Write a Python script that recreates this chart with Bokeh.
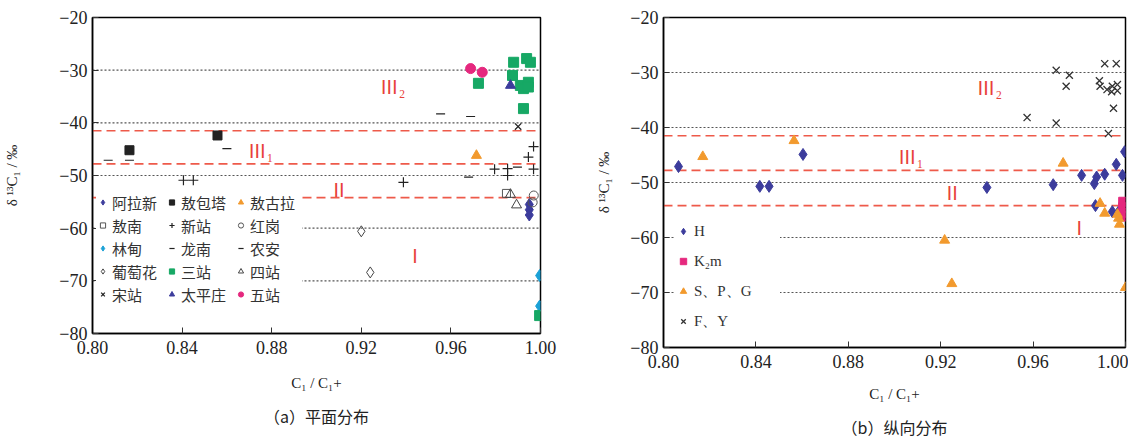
from bokeh.plotting import figure
from bokeh.models import Span, Legend, LegendItem, Label, Title, FixedTicker, NumeralTickFormatter, Range1d
from bokeh.layouts import row
from bokeh.embed import file_html
from bokeh.resources import INLINE

SERIF = "Liberation Serif"
CJK = "Noto Sans CJK SC"

# ---------------- axes / reference lines ----------------
x_ticks = [0.80, 0.84, 0.88, 0.92, 0.96, 1.00]
y_ticks = [-80, -70, -60, -50, -40, -30, -20]
y_tick_labels = ["−80", "−70", "−60", "−50", "−40", "−30", "−20"]
dotted_levels = [-30, -40, -50, -60, -70]
zone_bounds = [-41.5, -47.8, -54.2]
zone_names = ["Ⅲ₂", "Ⅲ₁", "Ⅱ", "Ⅰ"]
zone_x_a = [0.934, 0.875, 0.910, 0.944]
zone_y_a = [-33.0, -45.0, -52.5, -65.0]
zone_x_b = [0.941, 0.907, 0.925, 0.980]
zone_y_b = [-32.5, -45.0, -51.6, -58.0]

# ---------------- panel (a): by area ----------------
alaxin_x = [0.995, 0.995, 0.995]
alaxin_y = [-55.5, -56.5, -57.5]
aobaota_x = [0.8165, 0.8558]
aobaota_y = [-45.2, -42.4]
aogula_x = [0.9714]
aogula_y = [-46.2]
aonan_x = [0.9848]
aonan_y = [-53.4]
xinzhan_x = [0.8406, 0.8450, 0.9388, 0.9795, 0.9853, 0.9853, 0.9946, 0.9969, 0.9969]
xinzhan_y = [-50.9, -50.9, -51.3, -48.8, -48.7, -50.0, -46.5, -44.5, -48.8]
honggang_x = [0.9970, 0.9965]
honggang_y = [-53.8, -55.1]
lindian_x = [0.9996, 0.9996]
lindian_y = [-69.0, -74.8]
longnan_x = [0.8070, 0.8165, 0.8600]
longnan_y = [-47.1, -47.1, -44.9]
nongan_x = [0.9554, 0.9688, 0.9679, 0.9897]
nongan_y = [-38.3, -38.8, -50.3, -48.4]
putaohua_x = [0.9200, 0.9240]
putaohua_y = [-60.6, -68.4]
sanzhan_x = [0.9723, 0.9880, 0.9938, 0.9955, 0.9875, 0.9910, 0.9946, 0.9924, 0.9946, 0.9924, 0.9996]
sanzhan_y = [-32.5, -28.5, -27.8, -28.5, -31.0, -32.9, -32.3, -33.5, -33.2, -37.3, -76.6]
sizhan_x = [0.9866, 0.9893]
sizhan_y = [-53.6, -55.6]
songzhan_x = [0.9900]
songzhan_y = [-40.7]
taipingzhuang_x = [0.9866]
taipingzhuang_y = [-32.9]
wuzhan_x = [0.9688, 0.9740]
wuzhan_y = [-29.7, -30.4]

# ---------------- panel (b): by stratum ----------------
h_x = [0.8065, 0.8417, 0.8457, 0.8604, 0.9400, 0.9687, 0.9810, 0.9865, 0.9875, 0.9910,
       0.9960, 0.9996, 0.9987, 0.9870, 0.9943, 0.9975]
h_y = [-47.1, -50.7, -50.7, -44.9, -50.9, -50.4, -48.7, -50.2, -49.0, -48.5,
       -46.7, -44.4, -48.7, -54.2, -55.3, -55.0]
k2m_x = [0.999, 0.999, 0.999, 0.999]
k2m_y = [-53.5, -54.5, -55.5, -56.2]
spg_x = [0.8170, 0.8565, 0.9730, 0.9890, 0.9910, 0.9965, 0.9217, 0.9248, 1.0000, 0.9974, 0.9970]
spg_y = [-45.3, -42.4, -46.5, -53.8, -55.6, -55.8, -60.5, -68.4, -69.1, -57.6, -56.5]
fy_x = [0.9574, 0.9700, 0.9700, 0.9757, 0.9743, 0.9910, 0.9960, 0.9887, 0.9890, 0.9920,
        0.9943, 0.9965, 0.9965, 0.9948, 0.9926, 0.9940]
fy_y = [-38.2, -39.2, -29.6, -30.5, -32.5, -28.4, -28.4, -31.5, -32.5, -33.1,
        -32.5, -32.2, -33.3, -36.5, -41.1, -33.5]

BLUE = "#3c3c9c"
ORANGE = "#f29a2e"
GREEN = "#17a865"
CYAN = "#1ba1d6"
PINK = "#e5287e"
BLACK = "#222222"
RED = "#e8413a"


def make_fig(fw, fh, bl, br, bt, bb, ylab_standoff, xlab_standoff):
    p = figure(width=fw + bl + br, height=fh + bt + bb, frame_width=fw, frame_height=fh,
               min_border_left=bl, min_border_right=br, min_border_top=bt, min_border_bottom=bb,
               x_range=Range1d(0.80, 1.00), y_range=Range1d(-80, -20),
               output_backend="svg", toolbar_location=None)
    p.grid.visible = False
    p.background_fill_color = "white"
    p.border_fill_color = "white"
    p.outline_line_color = "black"
    p.outline_line_width = 1.5
    p.outline_line_alpha = 1.0
    p.xaxis.ticker = FixedTicker(ticks=x_ticks)
    p.xaxis.formatter = NumeralTickFormatter(format="0.00")
    p.yaxis.ticker = FixedTicker(ticks=y_ticks)
    p.yaxis.major_label_overrides = {t: s for t, s in zip(y_ticks, y_tick_labels)}
    for ax in (p.xaxis[0], p.yaxis[0]):
        ax.major_tick_in = 6
        ax.major_tick_out = 0
        ax.minor_tick_line_color = None
        ax.axis_line_width = 1.5
        ax.axis_line_color = "black"
        ax.major_tick_line_color = "#333333"
        ax.major_label_text_font = SERIF
        ax.major_label_text_font_size = "18px"
        ax.major_label_text_color = "#222222"
        ax.axis_label_text_font = SERIF
        ax.axis_label_text_font_size = "15px"
        ax.axis_label_text_font_style = "normal"
        ax.axis_label_text_color = "#222222"
    p.xaxis.major_label_standoff = 7
    p.yaxis.major_label_standoff = 5
    p.xaxis.axis_label = "C₁ / C₁+"
    p.xaxis.axis_label_standoff = xlab_standoff
    p.yaxis.axis_label = "δ ¹³C₁ / ‰"
    p.yaxis.axis_label_standoff = ylab_standoff
    for v in dotted_levels:
        p.add_layout(Span(location=v, dimension="width", line_color="#555555",
                          line_dash="2 2", line_width=1.2, level="underlay"))
    for v in zone_bounds:
        p.add_layout(Span(location=v, dimension="width", line_color="#ee5a4a",
                          line_dash="9 5", line_width=1.6, level="underlay"))
    return p


def add_zone_labels(p, xs, ys):
    for name, x, y in zip(zone_names, xs, ys):
        p.add_layout(Label(x=x, y=y, text=name, text_color=RED, text_font=CJK,
                           text_font_size="19px", text_align="center", text_baseline="middle"))


# ================= panel (a) =================
pa = make_fig(448, 316, 92, 32, 17, 100, 36, 18)
add_zone_labels(pa, zone_x_a, zone_y_a)

# legend fills column by column: listed here column-wise
series_a = [
    ("阿拉新", alaxin_x, alaxin_y, dict(marker="diamond", size=12, fill_color=BLUE, line_color=BLUE)),
    ("敖南", aonan_x, aonan_y, dict(marker="square", size=8, fill_color=None, line_color="#555555")),
    ("林甸", lindian_x, lindian_y, dict(marker="diamond", size=12, fill_color=CYAN, line_color=CYAN)),
    ("葡萄花", putaohua_x, putaohua_y, dict(marker="diamond", size=11, fill_color=None, line_color="#444444")),
    ("宋站", songzhan_x, songzhan_y, dict(marker="x", size=9, line_color=BLACK, line_width=1.3)),
    ("敖包塔", aobaota_x, aobaota_y, dict(marker="square", size=9, fill_color=BLACK, line_color=BLACK)),
    ("新站", xinzhan_x, xinzhan_y, dict(marker="cross", size=10, line_color=BLACK, line_width=1.2)),
    ("龙南", longnan_x, longnan_y, dict(marker="dash", size=9, line_color=BLACK, line_width=1.2)),
    ("三站", sanzhan_x, sanzhan_y, dict(marker="square", size=10, fill_color=GREEN, line_color=GREEN)),
    ("太平庄", taipingzhuang_x, taipingzhuang_y, dict(marker="triangle", size=10, fill_color=BLUE, line_color=BLUE)),
    ("敖古拉", aogula_x, aogula_y, dict(marker="triangle", size=10, fill_color=ORANGE, line_color=ORANGE)),
    ("红岗", honggang_x, honggang_y, dict(marker="circle", size=9, fill_color=None, line_color="#555555")),
    ("农安", nongan_x, nongan_y, dict(marker="dash", size=9, line_color=BLACK, line_width=1.2)),
    ("四站", sizhan_x, sizhan_y, dict(marker="triangle", size=10, fill_color=None, line_color="#444444")),
    ("五站", wuzhan_x, wuzhan_y, dict(marker="circle", size=10, fill_color=PINK, line_color=PINK)),
]
items_a = []
for name, xs, ys, style in series_a:
    r = pa.scatter(xs, ys, **style)
    items_a.append(LegendItem(label=name, renderers=[r]))

leg_a = Legend(items=items_a, ncols=3, location=(4, 28),
               background_fill_color="white", background_fill_alpha=1.0,
               border_line_color=None, label_text_font=CJK, label_text_font_size="15px",
               label_text_color="#333333", glyph_width=13, glyph_height=22, label_height=22,
               label_width=52, label_standoff=3, spacing=1, padding=5, margin=0)
pa.add_layout(leg_a)
pa.add_layout(Title(text="（a）平面分布", align="center", text_font=CJK, standoff=17,
                    text_font_size="16px", text_font_style="normal", text_color="#222222"), "below")

# ================= panel (b) =================
pb = make_fig(462, 330, 91, 3, 16, 87, 15, 15)
add_zone_labels(pb, zone_x_b, zone_y_b)

series_b = [
    ("H", h_x, h_y, dict(marker="diamond", size=12, fill_color=BLUE, line_color=BLUE)),
    ("K₂m", k2m_x, k2m_y, dict(marker="square", size=9, fill_color=PINK, line_color=PINK)),
    ("S、P、G", spg_x, spg_y, dict(marker="triangle", size=10, fill_color=ORANGE, line_color=ORANGE)),
    ("F、Y", fy_x, fy_y, dict(marker="x", size=10, line_color="#333333", line_width=1.3)),
]
items_b = []
for name, xs, ys, style in series_b:
    r = pb.scatter(xs, ys, **style)
    items_b.append(LegendItem(label=name, renderers=[r]))

leg_b = Legend(items=items_b, location=(12, 14),
               background_fill_color="white", background_fill_alpha=1.0,
               border_line_color=None, label_text_font=SERIF, label_text_font_size="15px",
               label_text_color="#333333", glyph_width=16, glyph_height=24, label_height=24,
               label_width=86, label_standoff=3, spacing=6, padding=6, margin=0)
pb.add_layout(leg_b)
pb.add_layout(Title(text="（b）纵向分布", align="center", text_font=CJK, standoff=17,
                    text_font_size="16px", text_font_style="normal", text_color="#222222"), "below")

layout = row(pa, pb)
open("out.html", "w").write(file_html(layout, INLINE))
